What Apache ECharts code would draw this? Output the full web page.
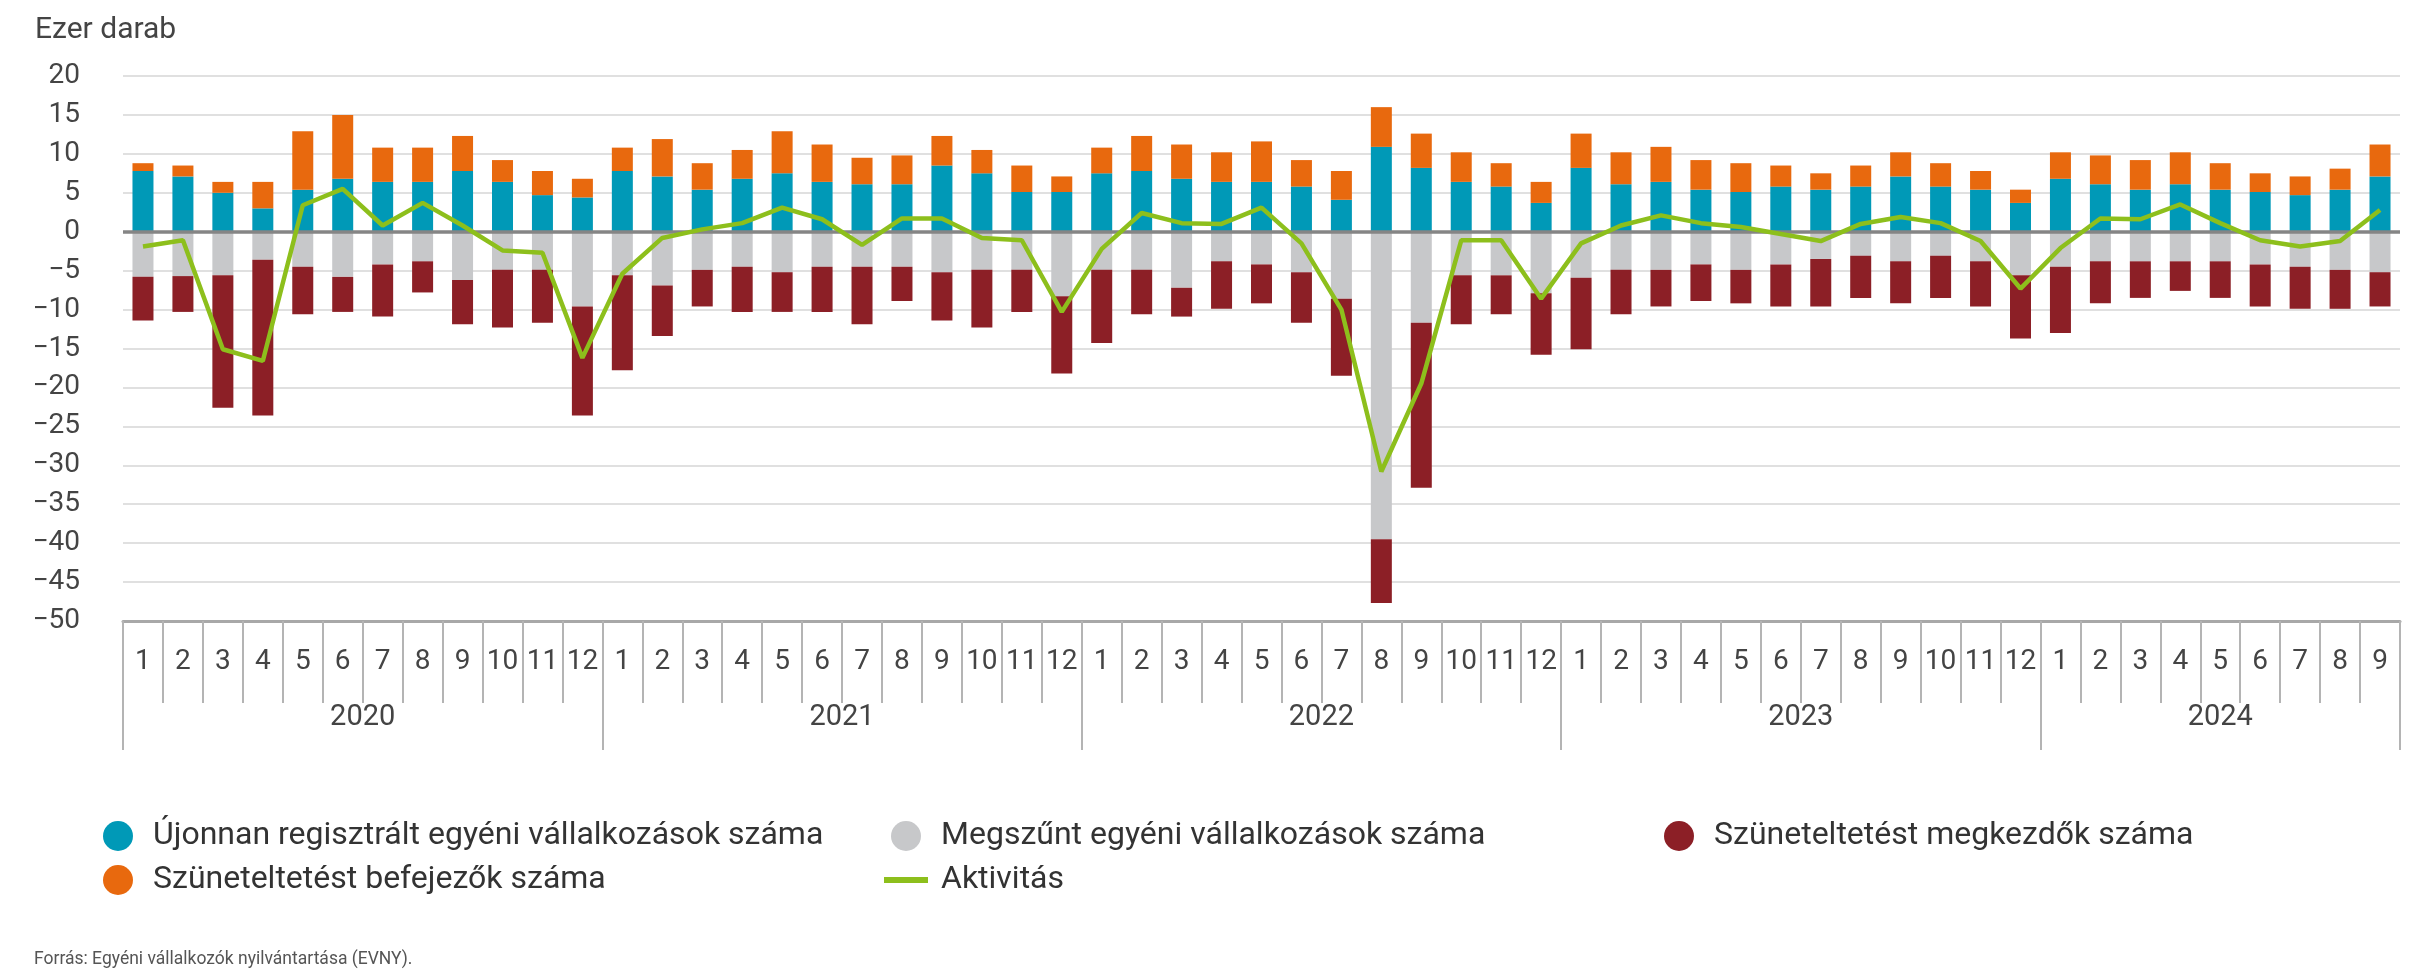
<!DOCTYPE html>
<html>
<head>
<meta charset="utf-8">
<script src="https://cdn.jsdelivr.net/npm/echarts@6/dist/echarts.min.js"></script>
<style>
  html, body { margin: 0; padding: 0; background: #fff; }
  #main { width: 2409px; height: 975px; }
</style>
</head>
<body>
<div id="main"></div>
<script>
// havi adatok 2020.01 - 2024.09, ezer darab
const years = ['2020', '2021', '2022', '2023', '2024'];
const monthsPerYear = [12, 12, 12, 12, 9];

const ujonnan = [
  7.8, 7.1, 5.0, 3.0, 5.4, 6.8, 6.4, 6.4, 7.8, 6.4, 4.7, 4.4,
  7.8, 7.1, 5.4, 6.8, 7.5, 6.4, 6.1, 6.1, 8.5, 7.5, 5.1, 5.1,
  7.5, 7.8, 6.8, 6.4, 6.4, 5.8, 4.1, 10.9, 8.2, 6.4, 5.8, 3.7,
  8.2, 6.1, 6.4, 5.4, 5.1, 5.8, 5.4, 5.8, 7.1, 5.8, 5.4, 3.7,
  6.8, 6.1, 5.4, 6.1, 5.4, 5.1, 4.7, 5.4, 7.1
];
const befejezok = [
  1.0, 1.4, 1.4, 3.4, 7.5, 8.2, 4.4, 4.4, 4.5, 2.8, 3.1, 2.4,
  3.0, 4.8, 3.4, 3.7, 5.4, 4.8, 3.4, 3.7, 3.8, 3.0, 3.4, 2.0,
  3.3, 4.5, 4.4, 3.8, 5.2, 3.4, 3.7, 5.1, 4.4, 3.8, 3.0, 2.7,
  4.4, 4.1, 4.5, 3.8, 3.7, 2.7, 2.1, 2.7, 3.1, 3.0, 2.4, 1.7,
  3.4, 3.7, 3.8, 4.1, 3.4, 2.4, 2.4, 2.7, 4.1
];
const megszunt = [
  -5.8, -5.7, -5.6, -3.6, -4.5, -5.8, -4.2, -3.8, -6.2, -4.9, -4.9, -9.6,
  -5.6, -6.9, -4.9, -4.5, -5.2, -4.5, -4.5, -4.5, -5.2, -4.9, -4.9, -8.3,
  -4.9, -4.9, -7.2, -3.8, -4.2, -5.2, -8.6, -39.5, -11.7, -5.6, -5.6, -7.9,
  -5.9, -4.9, -4.9, -4.2, -4.9, -4.2, -3.5, -3.1, -3.8, -3.1, -3.8, -5.6,
  -4.5, -3.8, -3.8, -3.8, -3.8, -4.2, -4.5, -4.9, -5.2
];
const megkezdok = [
  -5.6, -4.6, -17.0, -20.0, -6.1, -4.5, -6.7, -4.0, -5.7, -7.4, -6.8, -14.0,
  -12.2, -6.5, -4.7, -5.8, -5.1, -5.8, -7.4, -4.4, -6.2, -7.4, -5.4, -9.9,
  -9.4, -5.7, -3.7, -6.1, -5.0, -6.5, -9.9, -8.2, -21.2, -6.3, -5.0, -7.9,
  -9.2, -5.7, -4.7, -4.7, -4.3, -5.4, -6.1, -5.4, -5.4, -5.4, -5.8, -8.1,
  -8.5, -5.4, -4.7, -3.8, -4.7, -5.4, -5.4, -5.0, -4.4
];
const aktivitas = [
  -1.9, -1.1, -15.1, -16.6, 3.4, 5.5, 0.8, 3.7, 0.8, -2.4, -2.7, -16.2,
  -5.4, -0.8, 0.3, 1.1, 3.1, 1.6, -1.7, 1.7, 1.7, -0.8, -1.1, -10.3,
  -2.2, 2.4, 1.1, 1.0, 3.1, -1.5, -10.0, -30.8, -19.5, -1.1, -1.1, -8.6,
  -1.5, 0.8, 2.1, 1.1, 0.6, -0.3, -1.2, 1.0, 1.9, 1.1, -1.2, -7.3,
  -2.1, 1.7, 1.6, 3.5, 1.1, -1.1, -1.9, -1.2, 2.8
];

const months = [];
monthsPerYear.forEach((n) => {
  for (let m = 1; m <= n; m++) months.push(String(m));
});
const yearBounds = [0];
const yearMids = [];
monthsPerYear.forEach((n, i) => {
  yearMids.push(yearBounds[i] + n / 2);
  yearBounds.push(yearBounds[i] + n);
});

const FONT = 'Roboto';
const names = {
  uj: 'Újonnan regisztrált egyéni vállalkozások száma',
  bef: 'Szüneteltetést befejezők száma',
  meg: 'Megszűnt egyéni vállalkozások száma',
  kezd: 'Szüneteltetést megkezdők száma',
  akt: 'Aktivitás'
};

const legendBase = {
  top: 815,
  orient: 'vertical',
  icon: 'circle',
  itemWidth: 44,
  itemHeight: 30,
  itemGap: 12,
  textStyle: { fontFamily: FONT, fontSize: 32, color: '#333', padding: [0, 0, 0, 8] }
};

const bar = (name, data, color) => ({
  name: name,
  type: 'bar',
  stack: 'a',
  barWidth: 21,
  data: data,
  itemStyle: { color: color },
  emphasis: { disabled: true }
});

const option = {
  animation: false,
  textStyle: { fontFamily: FONT },
  title: {
    text: 'Ezer darab',
    left: 30,
    top: 10,
    textStyle: { fontFamily: FONT, fontSize: 30, fontWeight: 'normal', color: '#444' }
  },
  grid: { left: 123, right: 9, top: 76, bottom: 354 },
  legend: [
    Object.assign({ left: 98, data: [names.uj, names.bef] }, legendBase),
    Object.assign({ left: 879, data: [names.meg, { name: names.akt, icon: 'path://M0,0H44V6H0Z' }] }, legendBase),
    Object.assign({ left: 1659, data: [names.kezd] }, legendBase)
  ],
  graphic: [{
    type: 'text',
    left: 34,
    top: 951,
    style: {
      text: 'Forrás: Egyéni vállalkozók nyilvántartása (EVNY).',
      font: '17.5px Roboto',
      fill: '#555'
    }
  }],
  xAxis: [
    {
      type: 'category',
      data: months,
      position: 'bottom',
      axisLine: { onZero: false, lineStyle: { color: '#a8a8a8', width: 3 } },
      axisTick: { show: true, interval: 0, length: 82, lineStyle: { color: '#b4b4b4', width: 2 } },
      axisLabel: { interval: 0, margin: 27, fontSize: 28, color: '#444', fontFamily: FONT }
    },
    {
      type: 'value',
      min: 0,
      max: yearBounds[yearBounds.length - 1],
      position: 'bottom',
      axisLine: { show: false, onZero: false },
      splitLine: { show: false },
      axisTick: {
        show: true,
        length: 129,
        customValues: yearBounds,
        lineStyle: { color: '#b4b4b4', width: 2 }
      },
      axisLabel: {
        margin: 82,
        fontSize: 29,
        color: '#444',
        fontFamily: FONT,
        customValues: yearMids,
        formatter: (v) => years[yearMids.indexOf(v)] || ''
      }
    }
  ],
  yAxis: {
    type: 'value',
    min: -50,
    max: 20,
    interval: 5,
    axisLine: { show: false },
    axisTick: { show: false },
    axisLabel: {
      fontSize: 28,
      color: '#444',
      margin: 43,
      fontFamily: FONT,
      formatter: (v) => String(v).replace('-', '\u2212')
    },
    splitLine: { lineStyle: { color: '#e0e0e0', width: 2 } }
  },
  series: [
    bar(names.uj, ujonnan, '#0099b7'),
    bar(names.bef, befejezok, '#e8690e'),
    bar(names.meg, megszunt, '#c7c8ca'),
    bar(names.kezd, megkezdok, '#8c1f26'),
    {
      name: names.akt,
      type: 'line',
      data: aktivitas,
      symbol: 'none',
      lineStyle: { color: '#8dbf1c', width: 4.5 },
      itemStyle: { color: '#8dbf1c' },
      z: 5,
      markLine: {
        silent: true,
        symbol: 'none',
        label: { show: false },
        lineStyle: { color: '#858585', width: 3.5, type: 'solid' },
        data: [{ yAxis: 0 }]
      }
    }
  ]
};

echarts.init(document.getElementById('main')).setOption(option);
</script>
</body>
</html>
